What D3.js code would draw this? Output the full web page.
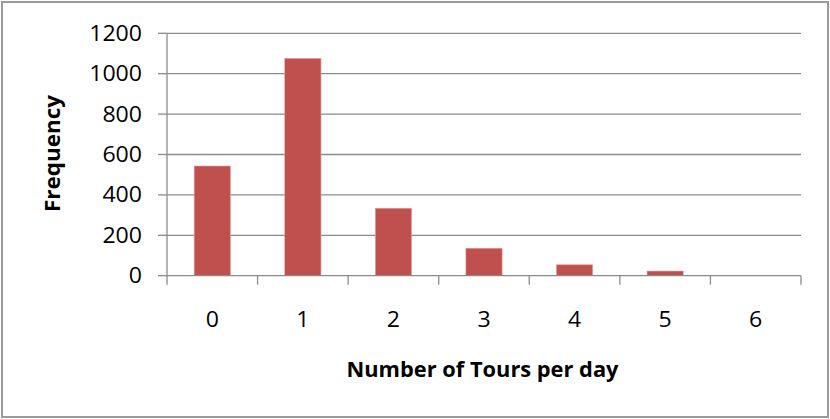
<!DOCTYPE html>
<html>
<head>
<meta charset="utf-8">
<script src="https://cdn.jsdelivr.net/npm/d3@7"></script>
<style>
  html, body { margin: 0; padding: 0; background: #fff; }
  svg { display: block; }
  text { font-family: "Open Sans", "Liberation Sans", sans-serif; fill: #000; }
</style>
</head>
<body>
<svg id="chart" width="830" height="419"></svg>
<script>
// Tours per day and how often each count occurs
const categories = ["0", "1", "2", "3", "4", "5", "6"];
const frequency = [543, 1076, 334, 136, 54, 23, 0];
const yTicks = [0, 200, 400, 600, 800, 1000, 1200];
const xTitle = "Number of Tours per day";
const yTitle = "Frequency";

const W = 830, H = 419;
const plot = { left: 167, right: 801, top: 33.3, bottom: 275.7 };
const stretch = 1.1; // glyphs are drawn a little wider than the font's natural shape

const svg = d3.select("#chart");

// outer frame
svg.append("rect")
  .attr("x", 2).attr("y", 2)
  .attr("width", W - 4).attr("height", H - 4)
  .attr("fill", "#fff")
  .attr("stroke", "#9a9a9a")
  .attr("stroke-width", 2);

const x = d3.scaleBand()
  .domain(categories)
  .range([plot.left, plot.right])
  .paddingInner(0.6)
  .paddingOuter(0.3);

const y = d3.scaleLinear()
  .domain([0, 1200])
  .range([plot.bottom, plot.top]);

const gridColor = "#8c8c8c";

// horizontal gridlines
svg.append("g")
  .selectAll("line")
  .data(yTicks.filter(d => d > 0))
  .join("line")
  .attr("x1", plot.left).attr("x2", plot.right)
  .attr("y1", d => y(d)).attr("y2", d => y(d))
  .attr("stroke", gridColor)
  .attr("stroke-width", 1.3);

// bars
svg.append("g")
  .selectAll("rect")
  .data(categories.map((c, i) => ({ c, v: frequency[i] })))
  .join("rect")
  .attr("x", d => x(d.c))
  .attr("width", x.bandwidth())
  .attr("y", d => y(d.v))
  .attr("height", d => y(0) - y(d.v))
  .attr("fill", "#c0504d")
  .attr("stroke", "#e8a09e")
  .attr("stroke-width", 0.6);

// y axis line and ticks
const yAxis = svg.append("g");
yAxis.append("line")
  .attr("x1", plot.left).attr("x2", plot.left)
  .attr("y1", plot.top).attr("y2", plot.bottom)
  .attr("stroke", gridColor).attr("stroke-width", 1.3);
yAxis.selectAll("line.tick")
  .data(yTicks)
  .join("line")
  .attr("class", "tick")
  .attr("x1", plot.left - 9).attr("x2", plot.left)
  .attr("y1", d => y(d)).attr("y2", d => y(d))
  .attr("stroke", gridColor).attr("stroke-width", 1.3);
yAxis.selectAll("text")
  .data(yTicks)
  .join("text")
  .attr("transform", d => `translate(142,${y(d) + 7.5}) scale(${stretch},1)`)
  .attr("text-anchor", "end")
  .attr("font-size", 21)
  .text(d => d);

// x axis line, boundary ticks and labels
const xAxis = svg.append("g");
xAxis.append("line")
  .attr("x1", plot.left).attr("x2", plot.right)
  .attr("y1", plot.bottom).attr("y2", plot.bottom)
  .attr("stroke", gridColor).attr("stroke-width", 1.3);
const step = x.step();
const bounds = categories.map(c => x(c) - step * x.paddingOuter()).concat([plot.right]);
xAxis.selectAll("line.tick")
  .data(bounds)
  .join("line")
  .attr("class", "tick")
  .attr("x1", d => d).attr("x2", d => d)
  .attr("y1", plot.bottom).attr("y2", plot.bottom + 9)
  .attr("stroke", gridColor).attr("stroke-width", 1.3);
xAxis.selectAll("text")
  .data(categories)
  .join("text")
  .attr("transform", d => `translate(${x(d) + x.bandwidth() / 2},326.5) scale(${stretch},1)`)
  .attr("text-anchor", "middle")
  .attr("font-size", 21)
  .text(d => d);

// axis titles
svg.append("text")
  .attr("x", 482.5).attr("y", 377)
  .attr("text-anchor", "middle")
  .attr("font-size", 21)
  .attr("font-weight", "bold")
  .attr("textLength", 272)
  .attr("lengthAdjust", "spacingAndGlyphs")
  .text(xTitle);

svg.append("text")
  .attr("transform", "translate(60,153.5) rotate(-90)")
  .attr("text-anchor", "middle")
  .attr("font-size", 21)
  .attr("font-weight", "bold")
  .attr("textLength", 117)
  .attr("lengthAdjust", "spacingAndGlyphs")
  .text(yTitle);
</script>
</body>
</html>
